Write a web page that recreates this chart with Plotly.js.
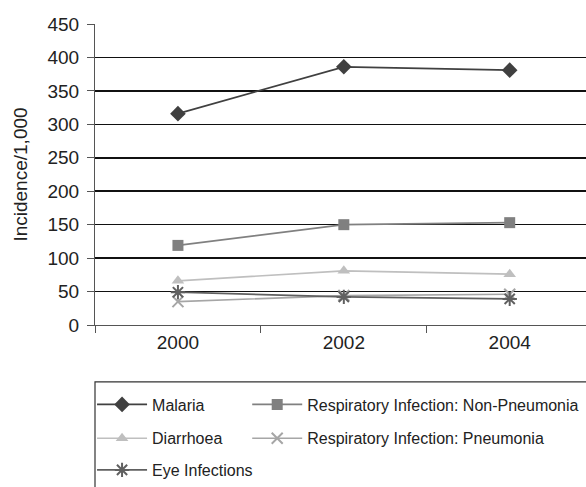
<!DOCTYPE html>
<html><head><meta charset="utf-8">
<script src="https://cdn.plot.ly/plotly-3.0.1.min.js"></script>
<style>html,body{margin:0;padding:0;background:#fff;overflow:hidden}</style>
</head><body><div id="chart" style="width:586px;height:487px"></div>
<script>
const years = ['2000', '2002', '2004'];
const malaria = [316, 386, 381];
const respNonPneumonia = [119, 150, 153];
const diarrhoea = [66, 81, 76];
const respPneumonia = [35, 44, 46];
const eyeInfections = [49, 42, 39];
const yTicks = [0, 50, 100, 150, 200, 250, 300, 350, 400, 450];

function tr(name, y, color, symbol, legend, opts) {
  return {
    x: years, y: y, name: name, type: 'scatter', mode: 'lines+markers',
    line: {color: color, width: 1.7},
    marker: Object.assign({symbol: symbol, size: 10, color: color}, opts || {}),
    legend: legend
  };
}
const data = [
  tr('Malaria', malaria, '#404040', 'diamond', 'legend', {size: 12}),
  tr('Respiratory Infection: Non-Pneumonia', respNonPneumonia, '#808080', 'square', 'legend2', {size: 11}),
  tr('Diarrhoea', diarrhoea, '#bfbfbf', 'triangle-up', 'legend3', {size: 11}),
  tr('Respiratory Infection: Pneumonia', respPneumonia, '#a6a6a6', 'x-thin-open', 'legend4', {size: 11, line: {color: '#a6a6a6', width: 2}}),
  tr('Eye Infections', eyeInfections, '#606060', 'asterisk-open', 'legend5', {size: 12, line: {color: '#606060', width: 2}})
];
const legBase = {
  orientation: 'h', xanchor: 'left', yanchor: 'middle', itemwidth: 50,
  font: {family: 'Liberation Sans, Arial, sans-serif', size: 16, color: '#222'},
  bgcolor: 'rgba(0,0,0,0)', borderwidth: 0
};
const col1 = -0.006, col2 = 0.31;
const row1 = -0.26, row2 = -0.372, row3 = -0.482;
const layout = {
  width: 586, height: 487,
  margin: {l: 95, r: 0, t: 24, b: 161},
  paper_bgcolor: '#fff', plot_bgcolor: '#fff',
  font: {family: 'Liberation Sans, Arial, sans-serif', size: 19, color: '#222'},
  showlegend: true,
  xaxis: {
    type: 'category', range: [-0.5, 2.46],
    showgrid: false, showline: true, linecolor: '#555', linewidth: 1,
    ticks: 'outside', tickson: 'boundaries', ticklen: 7, tickcolor: '#555',
    tickfont: {size: 19}
  },
  yaxis: {
    range: [0, 450], tickvals: yTicks, ticktext: yTicks.map(String),
    showgrid: true, gridcolor: '#111', gridwidth: 1.5,
    showline: true, linecolor: '#555', linewidth: 1, zeroline: false,
    ticks: 'outside', ticklen: 7, tickcolor: '#555', ticklabelstandoff: 4,
    tickfont: {size: 19},
    title: {text: 'Incidence/1,000', font: {size: 19}, standoff: 14}
  },
  legend: Object.assign({}, legBase, {x: col1, y: row1}),
  legend2: Object.assign({}, legBase, {x: col2, y: row1}),
  legend3: Object.assign({}, legBase, {x: col1, y: row2}),
  legend4: Object.assign({}, legBase, {x: col2, y: row2}),
  legend5: Object.assign({}, legBase, {x: col1, y: row3}),
  shapes: [{
    type: 'rect', xref: 'paper', yref: 'paper', x0: 0, x1: 1.05, y0: -0.189, y1: -0.6,
    line: {color: '#333', width: 1.2}, fillcolor: 'rgba(0,0,0,0)', layer: 'below'
  }]
};
Plotly.newPlot('chart', data, layout, {staticPlot: true});
</script></body></html>
